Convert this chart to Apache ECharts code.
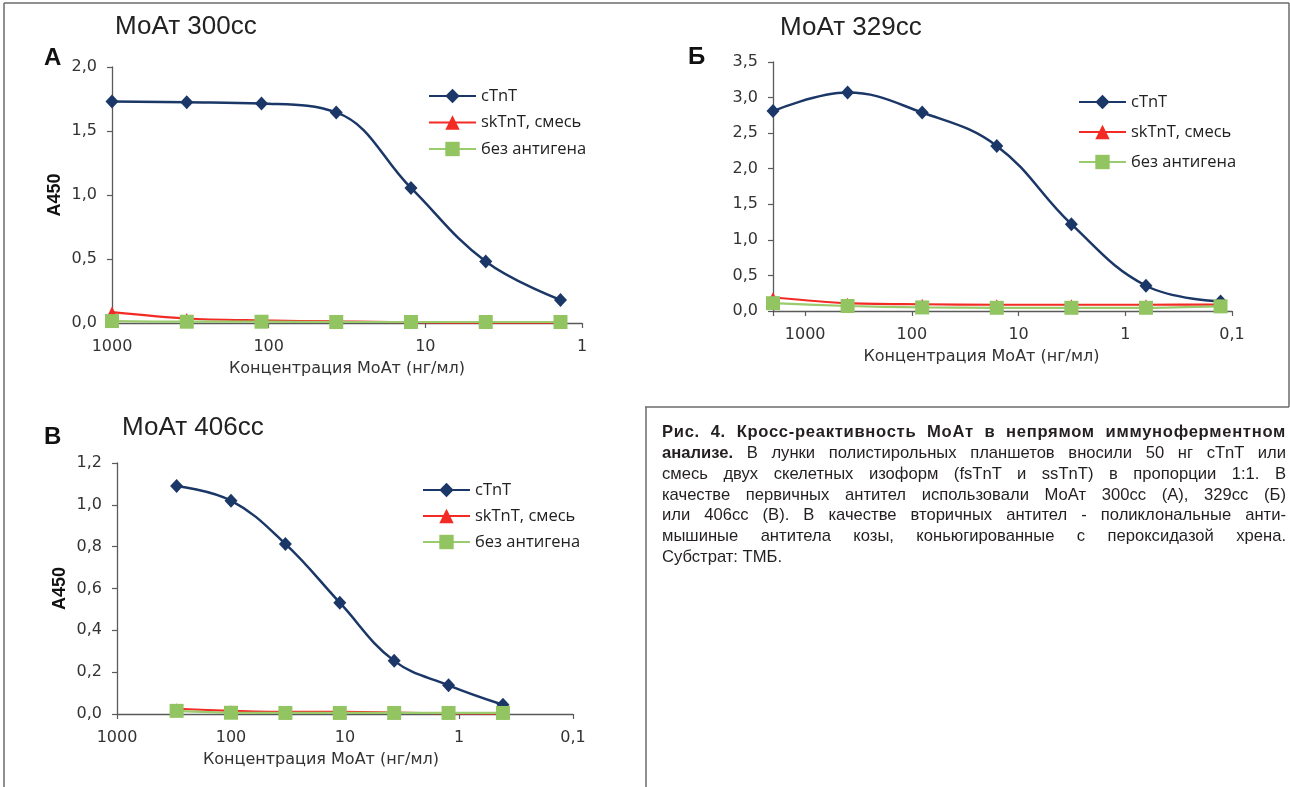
<!DOCTYPE html>
<html><head><meta charset="utf-8">
<script src="https://cdn.jsdelivr.net/npm/echarts@6/dist/echarts.min.js"></script>
<style>
html,body{margin:0;padding:0;background:#fff;}
#c{position:absolute;left:0;top:0;width:1290px;height:787px;}
#cap{position:absolute;left:662px;top:422px;width:624px;font-family:"Liberation Sans Narrow","Liberation Sans",sans-serif;font-size:16.6px;line-height:20.85px;color:#231f20;}
#cap div{text-align:justify;text-align-last:justify;}
#cap div.b1{letter-spacing:0.7px;}
#cap div.last{text-align-last:left;}
</style></head><body>
<div id="c"></div>
<div id="cap">
<div class="b1"><b>Рис. 4. Кросс-реактивность МоАт в непрямом иммуноферментном</b></div>
<div><b>анализе.</b> В лунки полистирольных планшетов вносили 50 нг cTnT или</div>
<div>смесь двух скелетных изоформ (fsTnT и ssTnT) в пропорции 1:1. В</div>
<div>качестве первичных антител использовали МоАт 300сс (А), 329сс (Б)</div>
<div>или 406сс (В). В качестве вторичных антител - поликлональные анти-</div>
<div>мышиные антитела козы, коньюгированные с пероксидазой хрена.</div>
<div class="last">Субстрат: ТМБ.</div>
</div>
<script>
// ---- data ----
const seriesNames = ['cTnT', 'skTnT, смесь', 'без антигена'];
const titles = ['МоАт 300сс', 'МоАт 329сс', 'МоАт 406сс'];
const panelLetters = ['А', 'Б', 'В'];
const xAxisName = 'Концентрация МоАт (нг/мл)';
const yAxisName = 'A450';

const concA = [1000, 333.3, 111.1, 37.04, 12.35, 4.115, 1.372];
const cTnT_A = [1.73, 1.725, 1.715, 1.645, 1.055, 0.48, 0.18];
const skTnT_A = [0.085, 0.035, 0.02, 0.012, 0.006, 0.002, 0.002];
const none_A = [0.015, 0.01, 0.01, 0.008, 0.008, 0.008, 0.008];

const concB = [2000, 400, 80, 16, 3.2, 0.64, 0.128];
const cTnT_B = [2.81, 3.07, 2.79, 2.32, 1.22, 0.355, 0.135];
const skTnT_B = [0.19, 0.11, 0.095, 0.088, 0.088, 0.088, 0.09];
const none_B = [0.11, 0.07, 0.05, 0.045, 0.045, 0.045, 0.065];

const concV = [300, 100, 33.33, 11.11, 3.704, 1.235, 0.4115];
const cTnT_V = [1.09, 1.02, 0.813, 0.532, 0.254, 0.137, 0.044];
const skTnT_V = [0.025, 0.015, 0.01, 0.01, 0.007, 0.003, 0.002];
const none_V = [0.015, 0.006, 0.005, 0.005, 0.005, 0.005, 0.005];

const yMax = [2.0, 3.5, 1.2];
const yInterval = [0.5, 0.5, 0.2];
const xMin = [1, 0.1, 0.1];
const xMax = [1000, 2000, 1000];

// ---- layout ----
const grids = [
  {left: 112, top: 67, width: 470, height: 256},
  {left: 773, top: 62, width: 459, height: 249},
  {left: 117, top: 463, width: 456, height: 251}
];
const showYName = [true, false, true];
const xNamePad = [0, 42, 48];
const legendPos = [
  {left: 428, top: 87, itemGap: 8.5},
  {left: 1078, top: 93, itemGap: 12},
  {left: 422, top: 481, itemGap: 8}
];
const titlePos = [[115, 14], [780, 14.5], [122, 414.5]];
const letterPos = [[44, 46], [688, 45], [44, 425.5]];

const NAVY = '#1b3767', RED = '#f22b24', GREEN = '#9acb6c', GREEN_M = '#93c462';
const AX = '#5a5a5a';
const TF = 'DejaVu Sans';

function pairs(c, v) { return c.map((x, i) => [x, v[i]]); }
function xFmt(v) {
  const l = Math.log10(v);
  if (Math.abs(l - Math.round(l)) > 1e-6) return '';
  const r = Math.round(l);
  return r >= 0 ? String(Math.pow(10, r)) : Math.pow(10, r).toFixed(-r).replace('.', ',');
}
const data = [
  [concA, cTnT_A, skTnT_A, none_A],
  [concB, cTnT_B, skTnT_B, none_B],
  [concV, cTnT_V, skTnT_V, none_V]
];

const xAxes = [], yAxes = [], series = [], legends = [], graphics = [];
for (let i = 0; i < 3; i++) {
  xAxes.push({
    type: 'log', logBase: 10, inverse: true, gridIndex: i, min: xMin[i], max: xMax[i],
    axisLine: {show: true, onZero: false, lineStyle: {color: AX, width: 1.3}},
    axisTick: {show: true, length: 5, lineStyle: {color: AX, width: 1.2}},
    minorTick: {show: false},
    splitLine: {show: false},
    axisLabel: {formatter: xFmt, margin: 16, fontFamily: TF, fontSize: 16, color: '#333'},
    name: xAxisName, nameLocation: 'middle', nameGap: 38,
    nameTextStyle: {fontFamily: TF, fontSize: 16, color: '#333', padding: [0, xNamePad[i], 0, 0]}
  });
  yAxes.push({
    type: 'value', gridIndex: i, min: 0, max: yMax[i], interval: yInterval[i],
    axisLine: {show: true, onZero: false, lineStyle: {color: AX, width: 1.3}},
    axisTick: {show: true, length: 5, lineStyle: {color: AX, width: 1.2}},
    splitLine: {show: false},
    axisLabel: {formatter: v => v.toFixed(1).replace('.', ','), margin: 15, fontFamily: TF, fontSize: 16, color: '#333'},
    name: showYName[i] ? yAxisName : '', nameLocation: 'middle', nameGap: 48,
    nameTextStyle: {fontFamily: 'Liberation Sans', fontWeight: 'bold', fontSize: 18, color: '#111'}
  });
  const [conc, c1, c2, c3] = data[i];
  series.push({
    name: seriesNames[0], type: 'line', xAxisIndex: i, yAxisIndex: i, data: pairs(conc, c1),
    smooth: 0.4, symbol: 'diamond', symbolSize: [13, 14],
    lineStyle: {color: NAVY, width: 2.5}, itemStyle: {color: NAVY}, z: 3
  });
  series.push({
    name: seriesNames[1], type: 'line', xAxisIndex: i, yAxisIndex: i, data: pairs(conc, c2),
    smooth: 0.3, symbol: 'triangle', symbolSize: 11,
    lineStyle: {color: RED, width: 2.2}, itemStyle: {color: RED}, z: 4
  });
  series.push({
    name: seriesNames[2], type: 'line', xAxisIndex: i, yAxisIndex: i, data: pairs(conc, c3),
    smooth: 0.3, symbol: 'rect', symbolSize: 14,
    lineStyle: {color: GREEN, width: 2.2}, itemStyle: {color: GREEN_M}, z: 5
  });
  legends.push({
    data: seriesNames, orient: 'vertical', left: legendPos[i].left, top: legendPos[i].top,
    padding: 0, itemGap: legendPos[i].itemGap, itemWidth: 47, itemHeight: 18, selectedMode: false,
    textStyle: {fontFamily: 'Open Sans', fontSize: 16.5, color: '#222', lineHeight: 18}
  });
  graphics.push({
    type: 'text', left: titlePos[i][0], top: titlePos[i][1],
    style: {text: titles[i], font: '26px "Liberation Sans"', fill: '#222'}
  });
  graphics.push({
    type: 'text', left: letterPos[i][0], top: letterPos[i][1],
    style: {text: panelLetters[i], font: 'bold 24px "Liberation Sans"', fill: '#111'}
  });
}
// frame lines
const frame = [
  [4, 3, 1289, 3], [4, 3, 4, 787], [1289, 3, 1289, 407], [645, 407, 1289, 407], [646, 407, 646, 787]
];
frame.forEach(f => graphics.push({
  type: 'line', shape: {x1: f[0], y1: f[1], x2: f[2], y2: f[3]},
  style: {stroke: '#6b6b6b', lineWidth: 1.5}
}));

const chart = echarts.init(document.getElementById('c'));
chart.setOption({
  animation: false,
  grid: grids,
  xAxis: xAxes,
  yAxis: yAxes,
  legend: legends,
  series: series,
  graphic: graphics
});
</script>
</body></html>
